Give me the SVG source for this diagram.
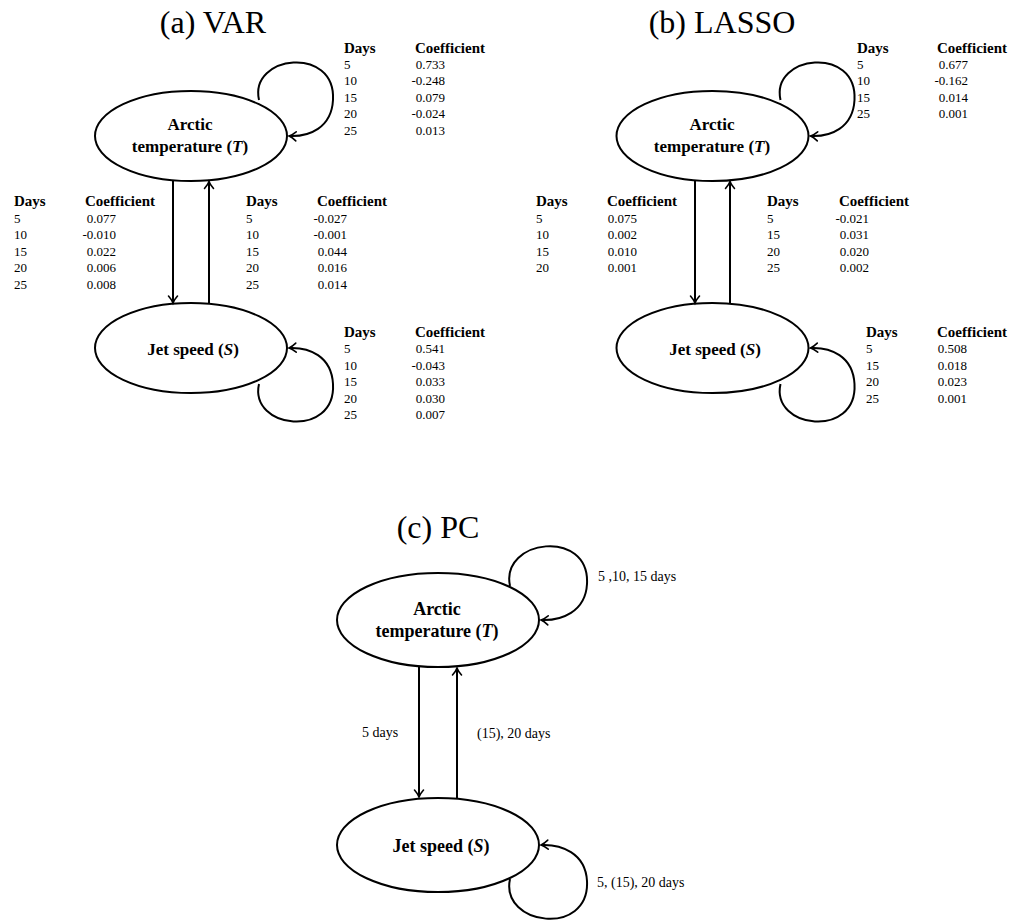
<svg xmlns="http://www.w3.org/2000/svg" width="1013" height="920" viewBox="0 0 1013 920">
  <style>
    .bg { fill: #ffffff; }
    .node { fill: none; stroke: #000; stroke-width: 2; }
    .edge { fill: none; stroke: #000; stroke-width: 2; marker-end: url(#arrow); }
    .title { font-family: "Liberation Serif", "Times New Roman", serif; font-size: 32px; fill: #000; text-anchor: middle; }
    .lbl { font-family: "Liberation Serif", "Times New Roman", serif; font-size: 17px; font-weight: bold; fill: #000; text-anchor: middle; }
    .lblc { font-family: "Liberation Serif", "Times New Roman", serif; font-size: 18px; font-weight: bold; fill: #000; text-anchor: middle; }
    .sym { font-style: italic; }
    .hd { font-family: "Liberation Serif", "Times New Roman", serif; font-size: 15px; font-weight: bold; fill: #000; }
    .td { font-family: "Liberation Serif", "Times New Roman", serif; font-size: 13px; fill: #000; }
    .tv { font-family: "Liberation Serif", "Times New Roman", serif; font-size: 13px; fill: #000; text-anchor: end; }
    .el { font-family: "Liberation Serif", "Times New Roman", serif; font-size: 14px; fill: #000; }
  </style>
  <defs>
    <marker id="arrow" markerUnits="userSpaceOnUse" viewBox="-9 -6 10 12" refX="0" refY="0" markerWidth="10" markerHeight="12" orient="auto" overflow="visible">
      <path d="M -7 -4.5 Q -3 -1 0 0 Q -3 1 -7 4.5" fill="none" stroke="#000" stroke-width="1.6" stroke-linecap="round"/>
    </marker>
    <!-- self-loop drawn relative to the rightmost point of an ellipse -->
    <path id="loop" d="M -28 -36 C -38 -81 49 -91 46 -36 C 44.5 -8 22 1 2 0"/>
  </defs>
  <rect class="bg" x="0" y="0" width="1013" height="920"/>

  <!-- panel titles -->
  <text class="title" x="213" y="33">(a) VAR</text>
  <text class="title" x="722" y="33">(b) LASSO</text>
  <text class="title" x="438" y="538">(c) PC</text>

  <!-- connectors -->
  <g id="connectors">
    <!-- (a) VAR -->
    <line class="edge" x1="173" y1="180.5" x2="173" y2="303"/>
    <line class="edge" x1="209" y1="303.5" x2="209" y2="181.5"/>
    <path class="edge" transform="translate(287,136)" d="M -28 -36 C -38 -81 49 -91 46 -36 C 44.5 -8 22 1 2 0"/>
    <path class="edge" transform="translate(287,348) scale(1,-1)" d="M -28 -36 C -38 -81 49 -91 46 -36 C 44.5 -8 22 1 2 0"/>
    <!-- (b) LASSO -->
    <line class="edge" x1="695" y1="180.5" x2="695" y2="303"/>
    <line class="edge" x1="730" y1="303.5" x2="730" y2="181.5"/>
    <path class="edge" transform="translate(808.5,136)" d="M -28 -36 C -38 -81 49 -91 46 -36 C 44.5 -8 22 1 2 0"/>
    <path class="edge" transform="translate(808.5,348) scale(1,-1)" d="M -28 -36 C -38 -81 49 -91 46 -36 C 44.5 -8 22 1 2 0"/>
    <!-- (c) PC -->
    <line class="edge" x1="419" y1="666" x2="419" y2="797"/>
    <line class="edge" x1="457" y1="798.5" x2="457" y2="668"/>
    <path class="edge" transform="translate(539,620)" d="M -29 -34 C -39 -81 51 -92 48 -36 C 46.5 -8 22 1 2 0"/>
    <path class="edge" transform="translate(539,845) scale(1,-1)" d="M -29 -34 C -39 -81 51 -92 48 -36 C 46.5 -8 22 1 2 0"/>
  </g>

  <!-- (a) VAR nodes -->
  <g id="var-arctic">
    <ellipse class="node" cx="191" cy="136" rx="96" ry="45"/>
    <text class="lbl" x="190" y="130">Arctic</text>
    <text class="lbl" x="190" y="152">temperature (<tspan class="sym">T</tspan>)</text>
  </g>
  <g id="var-jet">
    <ellipse class="node" cx="191" cy="348" rx="96" ry="45"/>
    <text class="lbl" x="193" y="355">Jet speed (<tspan class="sym">S</tspan>)</text>
  </g>

  <!-- (b) LASSO nodes -->
  <g id="lasso-arctic">
    <ellipse class="node" cx="712.5" cy="136" rx="96" ry="45"/>
    <text class="lbl" x="712" y="130">Arctic</text>
    <text class="lbl" x="712" y="152">temperature (<tspan class="sym">T</tspan>)</text>
  </g>
  <g id="lasso-jet">
    <ellipse class="node" cx="712.5" cy="348" rx="96" ry="45"/>
    <text class="lbl" x="715" y="355">Jet speed (<tspan class="sym">S</tspan>)</text>
  </g>

  <!-- (c) PC nodes -->
  <g id="pc-arctic">
    <ellipse class="node" cx="438" cy="620" rx="101" ry="47"/>
    <text class="lblc" x="437" y="615">Arctic</text>
    <text class="lblc" x="437" y="637">temperature (<tspan class="sym">T</tspan>)</text>
  </g>
  <g id="pc-jet">
    <ellipse class="node" cx="438" cy="845" rx="101" ry="47"/>
    <text class="lblc" x="441" y="852">Jet speed (<tspan class="sym">S</tspan>)</text>
  </g>

  <!-- (a) VAR coefficient tables -->
  <g id="var-tt">
    <text class="hd" x="344" y="52.5">Days</text><text class="hd" x="415" y="52.5">Coefficient</text>
    <text class="td" x="344" y="69">5</text><text class="tv" x="445" y="69">0.733</text>
    <text class="td" x="344" y="85.4">10</text><text class="tv" x="445" y="85.4">-0.248</text>
    <text class="td" x="344" y="101.8">15</text><text class="tv" x="445" y="101.8">0.079</text>
    <text class="td" x="344" y="118.2">20</text><text class="tv" x="445" y="118.2">-0.024</text>
    <text class="td" x="344" y="134.6">25</text><text class="tv" x="445" y="134.6">0.013</text>
  </g>
  <g id="var-ts">
    <text class="hd" x="14" y="206">Days</text><text class="hd" x="85" y="206">Coefficient</text>
    <text class="td" x="14" y="222.5">5</text><text class="tv" x="116" y="222.5">0.077</text>
    <text class="td" x="14" y="239">10</text><text class="tv" x="116" y="239">-0.010</text>
    <text class="td" x="14" y="255.5">15</text><text class="tv" x="116" y="255.5">0.022</text>
    <text class="td" x="14" y="272">20</text><text class="tv" x="116" y="272">0.006</text>
    <text class="td" x="14" y="288.5">25</text><text class="tv" x="116" y="288.5">0.008</text>
  </g>
  <g id="var-st">
    <text class="hd" x="246" y="206">Days</text><text class="hd" x="317" y="206">Coefficient</text>
    <text class="td" x="246" y="222.5">5</text><text class="tv" x="347" y="222.5">-0.027</text>
    <text class="td" x="246" y="239">10</text><text class="tv" x="347" y="239">-0.001</text>
    <text class="td" x="246" y="255.5">15</text><text class="tv" x="347" y="255.5">0.044</text>
    <text class="td" x="246" y="272">20</text><text class="tv" x="347" y="272">0.016</text>
    <text class="td" x="246" y="288.5">25</text><text class="tv" x="347" y="288.5">0.014</text>
  </g>
  <g id="var-ss">
    <text class="hd" x="344" y="336.5">Days</text><text class="hd" x="415" y="336.5">Coefficient</text>
    <text class="td" x="344" y="353">5</text><text class="tv" x="445" y="353">0.541</text>
    <text class="td" x="344" y="369.5">10</text><text class="tv" x="445" y="369.5">-0.043</text>
    <text class="td" x="344" y="386">15</text><text class="tv" x="445" y="386">0.033</text>
    <text class="td" x="344" y="402.5">20</text><text class="tv" x="445" y="402.5">0.030</text>
    <text class="td" x="344" y="419">25</text><text class="tv" x="445" y="419">0.007</text>
  </g>

  <!-- (b) LASSO coefficient tables -->
  <g id="lasso-tt">
    <text class="hd" x="857" y="52.5">Days</text><text class="hd" x="937" y="52.5">Coefficient</text>
    <text class="td" x="857" y="69">5</text><text class="tv" x="968" y="69">0.677</text>
    <text class="td" x="857" y="85.4">10</text><text class="tv" x="968" y="85.4">-0.162</text>
    <text class="td" x="857" y="101.8">15</text><text class="tv" x="968" y="101.8">0.014</text>
    <text class="td" x="857" y="118.2">25</text><text class="tv" x="968" y="118.2">0.001</text>
  </g>
  <g id="lasso-ts">
    <text class="hd" x="536" y="206">Days</text><text class="hd" x="607" y="206">Coefficient</text>
    <text class="td" x="536" y="222.5">5</text><text class="tv" x="637" y="222.5">0.075</text>
    <text class="td" x="536" y="239">10</text><text class="tv" x="637" y="239">0.002</text>
    <text class="td" x="536" y="255.5">15</text><text class="tv" x="637" y="255.5">0.010</text>
    <text class="td" x="536" y="272">20</text><text class="tv" x="637" y="272">0.001</text>
  </g>
  <g id="lasso-st">
    <text class="hd" x="767" y="206">Days</text><text class="hd" x="839" y="206">Coefficient</text>
    <text class="td" x="767" y="222.5">5</text><text class="tv" x="869" y="222.5">-0.021</text>
    <text class="td" x="767" y="239">15</text><text class="tv" x="869" y="239">0.031</text>
    <text class="td" x="767" y="255.5">20</text><text class="tv" x="869" y="255.5">0.020</text>
    <text class="td" x="767" y="272">25</text><text class="tv" x="869" y="272">0.002</text>
  </g>
  <g id="lasso-ss">
    <text class="hd" x="866" y="336.5">Days</text><text class="hd" x="937" y="336.5">Coefficient</text>
    <text class="td" x="866" y="353">5</text><text class="tv" x="967" y="353">0.508</text>
    <text class="td" x="866" y="369.5">15</text><text class="tv" x="967" y="369.5">0.018</text>
    <text class="td" x="866" y="386">20</text><text class="tv" x="967" y="386">0.023</text>
    <text class="td" x="866" y="402.5">25</text><text class="tv" x="967" y="402.5">0.001</text>
  </g>

  <!-- (c) PC lag labels -->
  <g id="pc-labels">
    <text class="el" x="598" y="581">5 ,10, 15 days</text>
    <text class="el" x="362" y="737">5 days</text>
    <text class="el" x="477" y="738">(15), 20 days</text>
    <text class="el" x="597" y="887">5, (15), 20 days</text>
  </g>
</svg>
